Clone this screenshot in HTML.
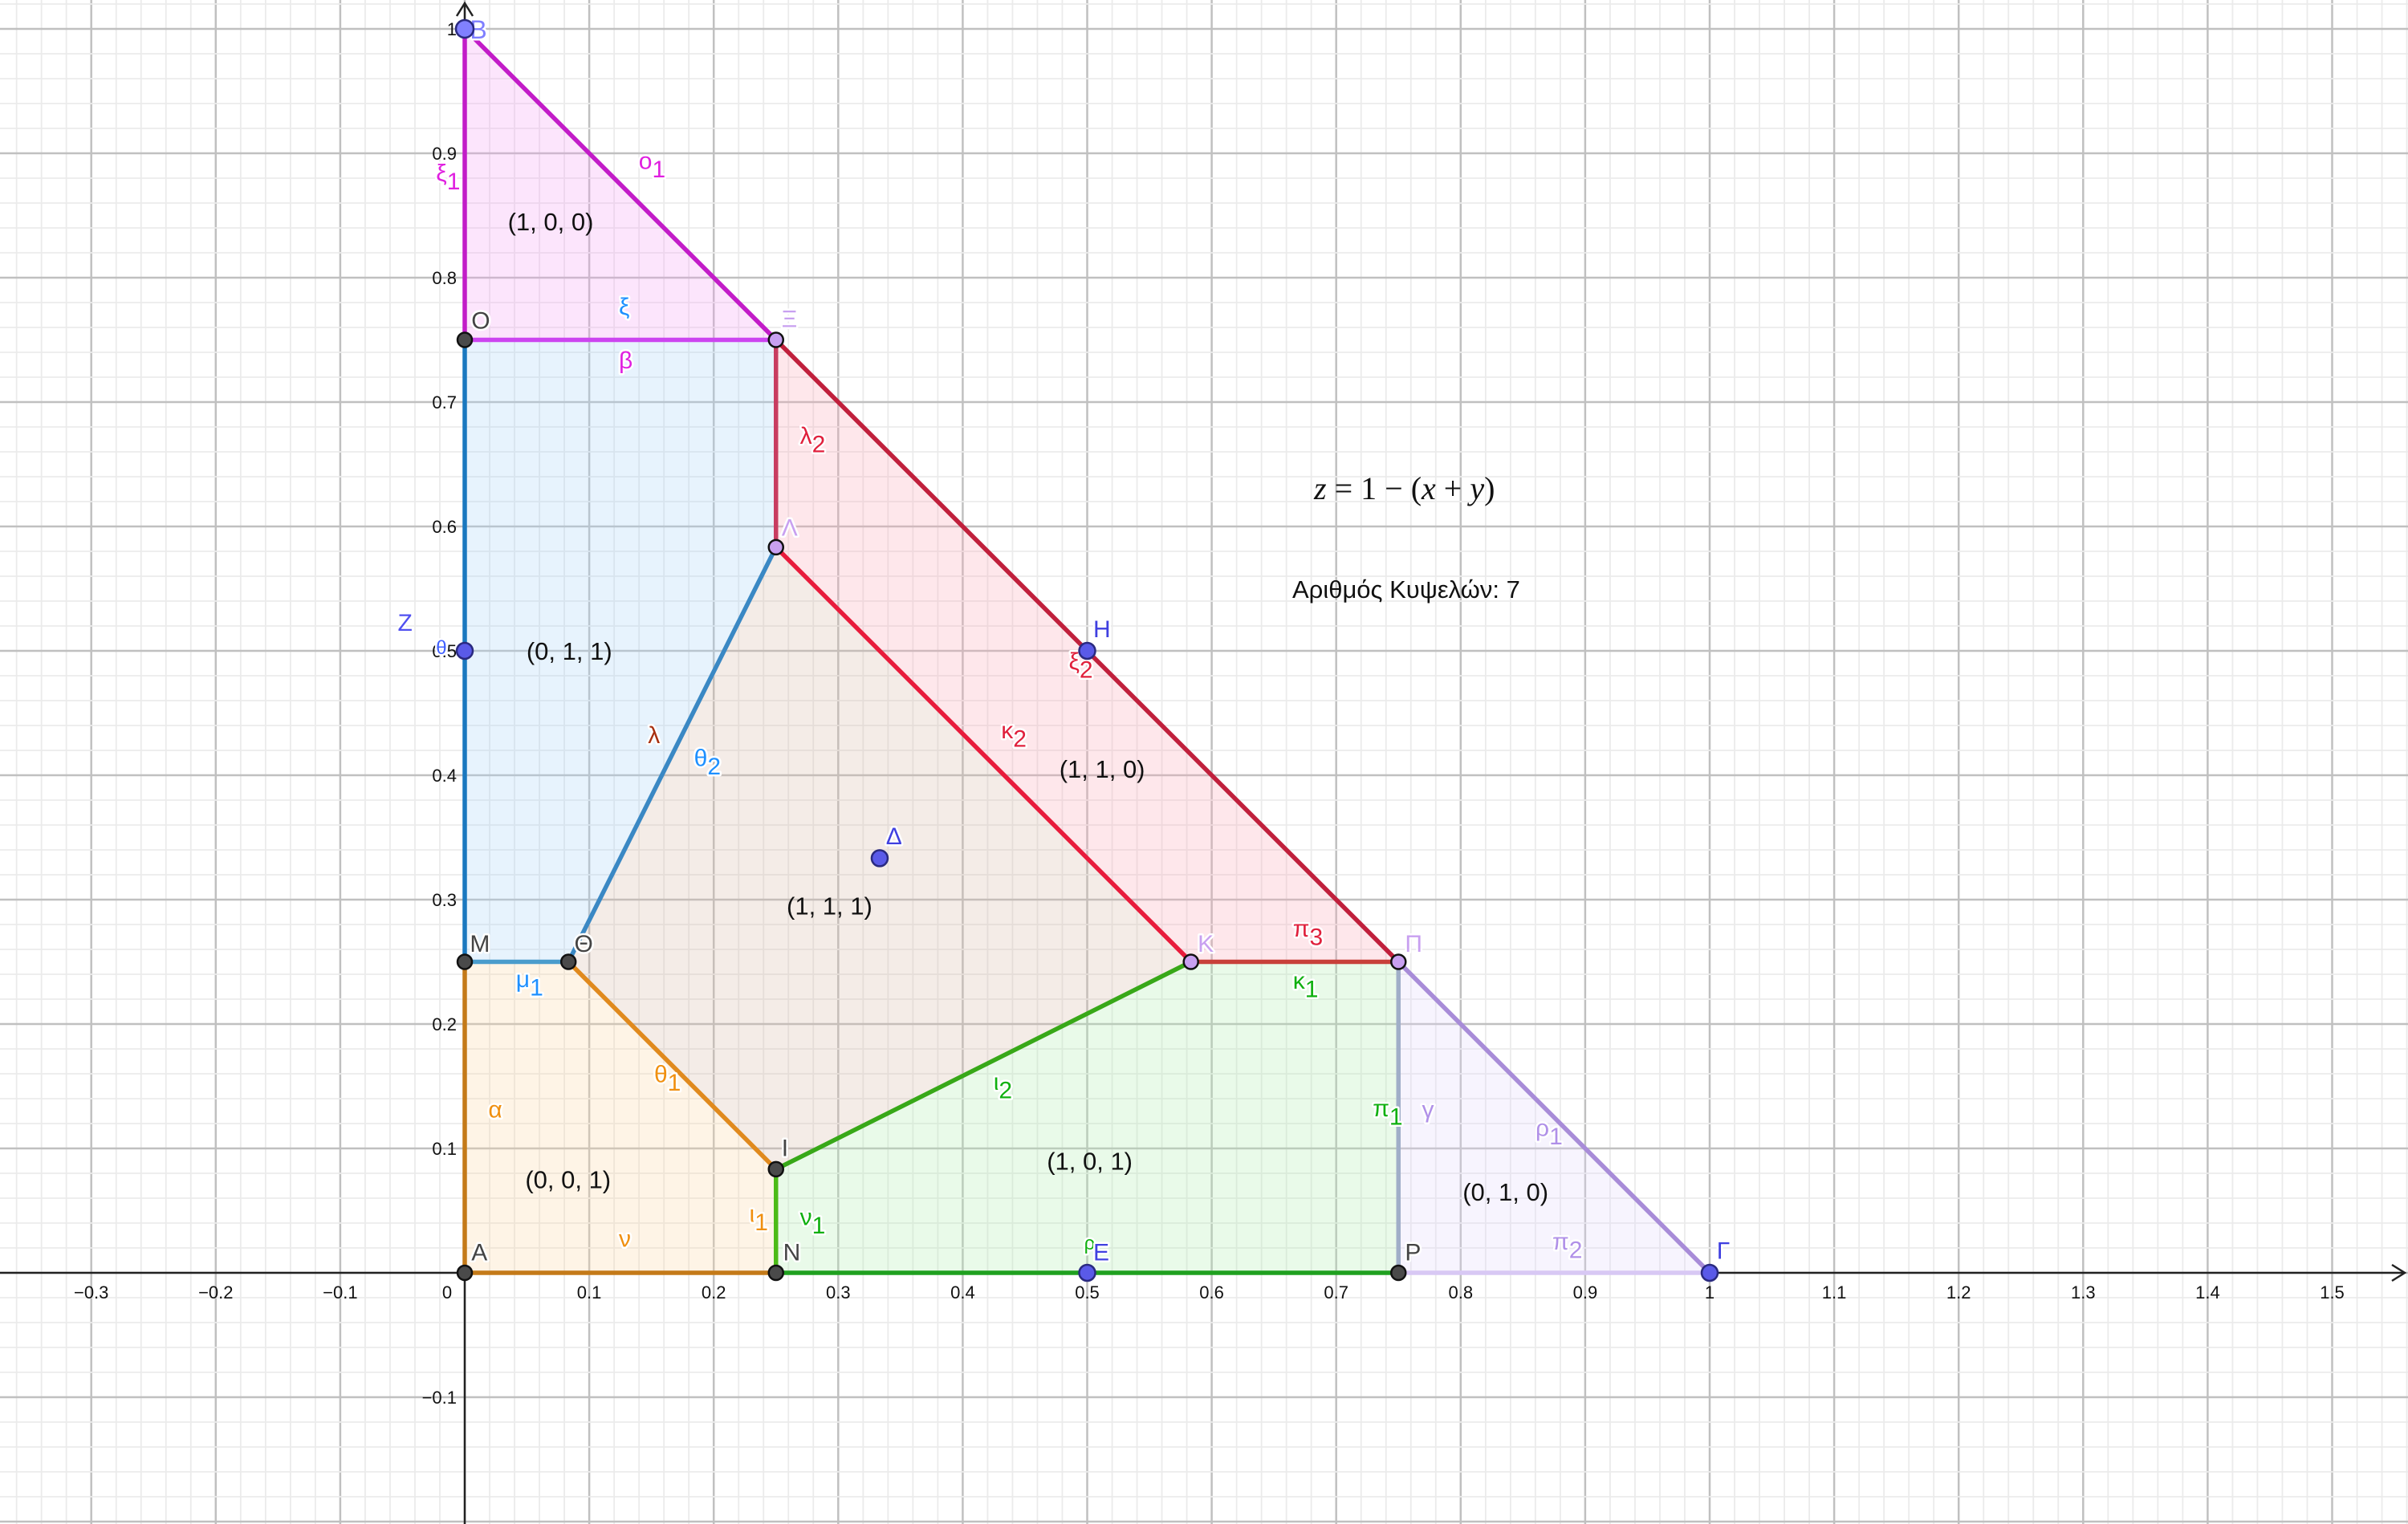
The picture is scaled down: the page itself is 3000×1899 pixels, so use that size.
<!DOCTYPE html>
<html><head><meta charset="utf-8">
<style>
html,body{margin:0;padding:0;background:#fff;}
svg{display:block;}
text{font-family:"Liberation Sans","DejaVu Sans",sans-serif;}
.halo{paint-order:stroke;stroke:#fff;stroke-width:5px;stroke-linejoin:round;}
</style></head>
<body>
<svg id="chart" width="3000" height="1899" viewBox="0 0 3000 1899" xmlns="http://www.w3.org/2000/svg">
<g id="grid"></g>
<g id="fills"></g>
<g id="axes"></g>
<g id="edges"></g>
<g id="labels"></g>
<g id="points"></g>
</svg>
<script>
// ---- data ----
const xTicks = [-0.3,-0.2,-0.1,0,0.1,0.2,0.3,0.4,0.5,0.6,0.7,0.8,0.9,1,1.1,1.2,1.3,1.4,1.5];
const yTicks = [-0.1,0.1,0.2,0.3,0.4,0.5,0.6,0.7,0.8,0.9,1];
const pointNames = ["A","B","Γ","O","Ξ","Λ","Θ","M","I","N","K","Π","P","H","E","Zp","Δ"];
const pointX = [0,0,1,0,0.25,0.25,0.0833,0,0.25,0.25,0.5833,0.75,0.75,0.5,0.5,0,0.3333];
const pointY = [0,1,0,0.75,0.75,0.5833,0.25,0.25,0.0833,0,0.25,0.25,0,0.5,0,0.5,0.3333];
const regionNames = ["(1, 0, 0)","(0, 1, 1)","(1, 1, 0)","(1, 1, 1)","(0, 0, 1)","(1, 0, 1)","(0, 1, 0)"];
const regionVerts = [["B","O","Ξ"],["O","Ξ","Λ","Θ","M"],["Ξ","Π","K","Λ"],["Λ","K","I","Θ"],["M","Θ","I","N","A"],["I","K","Π","P","N"],["Π","Γ","P"]];
const regionFill = ["#f4a0f4","#a8d4f8","#fca8b8","#d8bca8","#fcd8a4","#b0ecb0","#e4d8fc"];
const regionLabelX = [0.069,0.084,0.512,0.293,0.083,0.502,0.836];
const regionLabelY = [0.838,0.493,0.398,0.288,0.068,0.083,0.058];
const edgeFrom = ["B","B","O","O","M","Θ","Ξ","Ξ","Λ","K","Θ","A","A","N","I","N","Π","Π","P"];
const edgeTo   = ["O","Ξ","Ξ","M","Θ","Λ","Λ","Π","K","Π","I","M","N","I","K","P","P","Γ","Γ"];
const edgeCol  = ["#c21cc8","#c21cc8","#cc44f0","#1a78bf","#4a9ccc","#3a88c4","#c83c60","#c0203c","#e81c3c","#c8403a","#e08a1e","#c47a18","#c47a18","#4cbb17","#38a818","#1fa01f","#a0aec8","#a88cd8","#d8c8f4"];

const X = v => 579 + 1551*v;
const Y = v => 1586 - 1550*v;
const NS = "http://www.w3.org/2000/svg";
function mk(tag, parent, attrs){const e=document.createElementNS(NS,tag);for(const k in attrs)e.setAttribute(k,attrs[k]);parent.appendChild(e);return e;}
const idx = n => pointNames.indexOf(n);

// grid
const grid = document.getElementById('grid');
for(let i=-20;i<=80;i++){const v=i*0.02;const px=X(v);if(px<0||px>3000)continue;
  const major = i%5===0;
  const l=mk('line',grid,{x1:px,y1:0,x2:px,y2:1899,stroke:major?'#c0c0c0':'#ebebeb','stroke-width':major?2.5:1.8});
  
  }
for(let i=-15;i<=55;i++){const v=i*0.02;const py=Y(v);if(py<0||py>1899)continue;
  const major = i%5===0;
  const l=mk('line',grid,{x1:0,y1:py,x2:3000,y2:py,stroke:major?'#c0c0c0':'#ebebeb','stroke-width':major?2.5:1.8});
  
  }

// fills
const fills=document.getElementById('fills');
regionVerts.forEach((vs,r)=>{
  const pts=vs.map(n=>X(pointX[idx(n)])+','+Y(pointY[idx(n)])).join(' ');
  const p=mk('polygon',fills,{points:pts,fill:regionFill[r],'fill-opacity':0.28,stroke:'none'});
  
  
});

// axes
const axes=document.getElementById('axes');
let a=mk('line',axes,{x1:0,y1:Y(0),x2:2995,y2:Y(0),stroke:'#222','stroke-width':2.5});

mk('path',axes,{d:`M2980 ${Y(0)-10} L2996 ${Y(0)} L2980 ${Y(0)+10}`,fill:'none',stroke:'#222','stroke-width':2.5});
a=mk('line',axes,{x1:X(0),y1:4,x2:X(0),y2:1899,stroke:'#222','stroke-width':2.5});

mk('path',axes,{d:`M${X(0)-10} 20 L${X(0)} 4 L${X(0)+10} 20`,fill:'none',stroke:'#222','stroke-width':2.5});
xTicks.forEach(v=>{
  const s = v===0?'0':(v<0?'\u2212'+Math.abs(v):String(v));
  const t=mk('text',axes,{x:v===0?X(0)-22:X(v),y:Y(0)+32,'font-size':22,'text-anchor':'middle',fill:'#111'});
  t.textContent=s;
  
});
yTicks.forEach(v=>{
  const s = v<0?'\u2212'+Math.abs(v):String(v);
  const t=mk('text',axes,{x:X(0)-10,y:Y(v)+8,'font-size':22,'text-anchor':'end',fill:'#111'});
  t.textContent=s;
  
});

// edges
const edges=document.getElementById('edges');
edgeFrom.forEach((f,i)=>{
  const a1=idx(f),b1=idx(edgeTo[i]);
  const l=mk('line',edges,{x1:X(pointX[a1]),y1:Y(pointY[a1]),x2:X(pointX[b1]),y2:Y(pointY[b1]),stroke:edgeCol[i],'stroke-width':5.5,'stroke-linecap':'round'});
  
  
});

// labels
const labels=document.getElementById('labels');
const S=1.913;
function lab(txt,sub,dx,dy,col,size,name){
  const t=mk('text',labels,{x:dx*S,y:dy*S,'font-size':size,fill:col,class:'halo'});
  t.textContent=txt;
  if(sub){const ts=mk('tspan',t,{dy:size*0.35,'font-size':size});ts.textContent=sub;}
  
  
}
regionNames.forEach((n,i)=>{
  const t=mk('text',labels,{x:X(regionLabelX[i]),y:Y(regionLabelY[i]),'font-size':31,'text-anchor':'middle',fill:'#111'});
  t.textContent=n;
  
});
const L=[
 ["B","",306,25,"#7f7fff",32,"point-label-b"],
 ["ο","1",416,110,"#e020e0",30,"edge-label-o1"],
 ["ξ","1",284,118,"#e020e0",30,"edge-label-xi1"],
 ["O","",307,214,"#444",30,"point-label-o"],
 ["ξ","",403,205,"#1e90ff",30,"edge-label-xi"],
 ["Ξ","",509,213,"#c8a0f0",30,"point-label-xi"],
 ["β","",403,240,"#e020e0",30,"edge-label-beta"],
 ["λ","2",521,289,"#e0203c",30,"edge-label-lambda2"],
 ["Λ","",509,349,"#c8a0f0",30,"point-label-lambda"],
 ["Z","",259,411,"#5050f0",30,"point-label-z"],
 ["θ","",284,426,"#4060ff",24,"point-label-theta-small"],
 ["H","",712,415,"#4040e0",30,"point-label-h"],
 ["ξ","2",696,436,"#e0203c",30,"edge-label-xi2"],
 ["λ","",422,484,"#a83010",30,"edge-label-lambda"],
 ["θ","2",452,499,"#1e90ff",30,"edge-label-theta2"],
 ["κ","2",652,481,"#e0203c",30,"edge-label-kappa2"],
 ["Δ","",577,550,"#4040e0",30,"point-label-delta"],
 ["M","",306,620,"#444",30,"point-label-m"],
 ["Θ","",374,620,"#444",30,"point-label-theta"],
 ["Κ","",780,620,"#c8a0f0",30,"point-label-k"],
 ["π","3",842,610,"#e0203c",30,"edge-label-pi3"],
 ["Π","",915,620,"#c8a0f0",30,"point-label-pi"],
 ["μ","1",336,643,"#1e90ff",30,"edge-label-mu1"],
 ["κ","1",842,644,"#10b010",30,"edge-label-kappa1"],
 ["θ","1",426,705,"#f09010",30,"edge-label-theta1"],
 ["ι","2",647,710,"#10b010",30,"edge-label-iota2"],
 ["α","",318,728,"#f09010",30,"edge-label-alpha"],
 ["π","1",894,727,"#10b010",30,"edge-label-pi1"],
 ["γ","",926,728,"#b090e8",30,"edge-label-gamma"],
 ["ρ","1",1000,740,"#b090e8",30,"edge-label-rho1"],
 ["I","",509,753,"#444",30,"point-label-i"],
 ["ι","1",488,796,"#f09010",30,"edge-label-iota1"],
 ["ν","1",521,798,"#10b010",30,"edge-label-nu1"],
 ["ν","",403,812,"#f09010",30,"edge-label-nu"],
 ["π","2",1011,814,"#b090e8",30,"edge-label-pi2"],
 ["A","",307,821,"#444",30,"point-label-a"],
 ["N","",510,821,"#444",30,"point-label-n"],
 ["P","",915,821,"#444",30,"point-label-p"],
 ["Γ","",1118,820,"#4040e0",30,"point-label-gamma"],
 ["ρ","",706,814,"#10b010",24,"edge-label-rho"],
 ["E","",712,821,"#4040e0",30,"point-label-e"]
];
L.forEach(l=>lab(...l));
let f=mk('text',labels,{x:1637,y:622,'font-size':40,fill:'#111',style:'font-family:"Liberation Serif",serif'});
f.innerHTML='<tspan font-style="italic">z</tspan> = 1 − (<tspan font-style="italic">x</tspan> + <tspan font-style="italic">y</tspan>)';

f=mk('text',labels,{x:1610,y:745,'font-size':31,fill:'#111'});
f.textContent='Αριθμός Κυψελών: 7';


// points
const pts=document.getElementById('points');
const ptStyle={A:'d',B:'b',Γ:'b',O:'d',Ξ:'l',Λ:'l',Θ:'d',M:'d',I:'d',N:'d',K:'l',Π:'l',P:'d',H:'b',E:'b',Zp:'b',Δ:'b'};
pointNames.forEach((n,i)=>{
  const s=ptStyle[n];
  const fill=s==='d'?'#4a4a4a':(s==='l'?'#c8a0f0':'#5a5ae8');
  const r=s==='b'?10:9;
  const c=mk('circle',pts,{cx:X(pointX[i]),cy:Y(pointY[i]),r:n==='B'?11:r,fill:n==='B'?'#8080ff':fill,stroke:s==='b'?'#2a2a80':'#111','stroke-width':2.5});
  
  
});
</script>
</body></html>
